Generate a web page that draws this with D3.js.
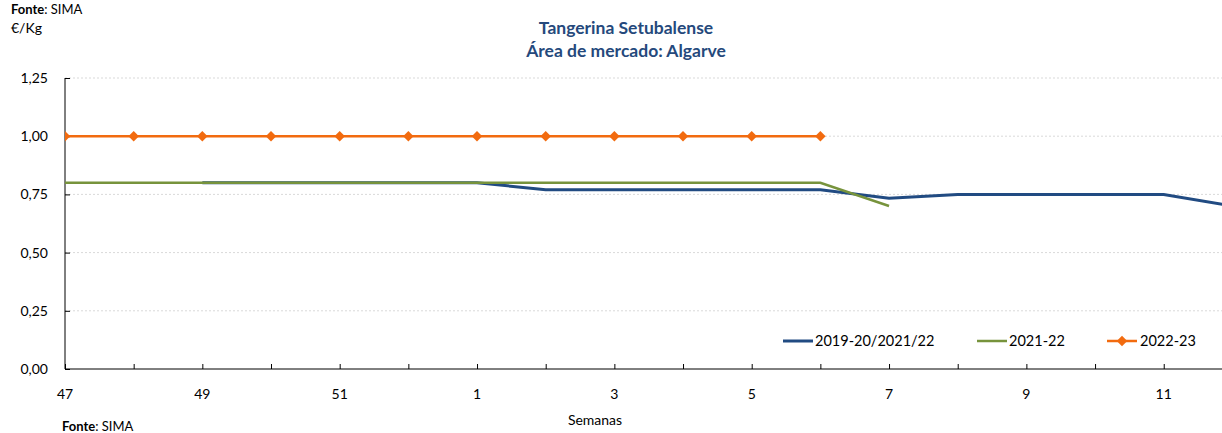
<!DOCTYPE html>
<html><head><meta charset="utf-8">
<script src="https://cdn.jsdelivr.net/npm/d3@7"></script>
<style>
body{margin:0;background:#fff;overflow:hidden}
svg{display:block;font-family:Lato,"Open Sans",sans-serif}
</style></head>
<body><svg id="c" width="1222" height="433"></svg>
<script>
const weeks = ["47","48","49","50","51","52","1","2","3","4","5","6","7","8","9","10","11","12"];
const tickLabels = ["47","49","51","1","3","5","7","9","11"];
const s2019 = [null,null,0.80,0.80,0.80,0.80,0.80,0.77,0.77,0.77,0.77,0.77,0.733,0.75,0.75,0.75,0.75,0.70];
const s2021 = [0.80,0.80,0.80,0.80,0.80,0.80,0.80,0.80,0.80,0.80,0.80,0.80,0.70,null,null,null,null,null];
const s2022 = [1.00,1.00,1.00,1.00,1.00,1.00,1.00,1.00,1.00,1.00,1.00,1.00,null,null,null,null,null,null];
const yTicks = [0,0.25,0.5,0.75,1.0,1.25];
const seriesNames = ["2019-20/2021/22","2021-22","2022-23"];
const colors = ["#214b82","#77933c","#f26b0f"];

const svg = d3.select("#c");
const pL = 65, pR = 65 + 17*68.67, pT = 78, pB = 369;
const x = d3.scalePoint().domain(weeks).range([pL, pR]);
const y = d3.scaleLinear().domain([0,1.25]).range([pB, pT]);
const fmt = v => d3.format(".2f")(v).replace(".", ",");

svg.append("defs").append("clipPath").attr("id","clip")
  .append("rect").attr("x",pL).attr("y",0).attr("width",1222-pL).attr("height",433);

// gridlines
svg.append("g").selectAll("line").data(yTicks.filter(d=>d>0)).join("line")
  .attr("x1",pL).attr("x2",1222).attr("y1",d=>y(d)).attr("y2",d=>y(d))
  .attr("stroke","#d9d9d9").attr("stroke-width",1).attr("stroke-dasharray","2,2");

// y axis
const ya = svg.append("g").attr("transform",`translate(${pL},0)`)
  .call(d3.axisRight(y).tickValues(yTicks).tickSize(5).tickFormat(""));
ya.select(".domain").attr("stroke","#000").attr("d",`M0,${pT}V${pB}`);
ya.selectAll(".tick line").attr("stroke","#000");
svg.append("g").selectAll("text").data(yTicks).join("text")
  .attr("x",48).attr("y",d=>y(d)).attr("dy","0.35em").attr("text-anchor","end")
  .attr("font-size",14).attr("fill","#000").text(fmt);

// x axis
const xa = svg.append("g").attr("transform",`translate(0,${pB})`)
  .call(d3.axisTop(x).tickSize(5).tickFormat(""));
xa.select(".domain").attr("stroke","#000").attr("d",`M${pL},0H1222`);
xa.selectAll(".tick line").attr("stroke","#000");
svg.append("g").selectAll("text").data(tickLabels).join("text")
  .attr("x",d=>x(d)).attr("y",394).attr("dy","0.35em").attr("text-anchor","middle")
  .attr("font-size",14).attr("fill","#000").text(d=>d);

// lines
const g = svg.append("g").attr("clip-path","url(#clip)");
const line = d3.line().defined(d=>d[1]!=null).x(d=>x(d[0])).y(d=>y(d[1]));
[[s2019,3],[s2021,2.5],[s2022,2.5]].forEach(([s,w],i)=>{
  g.append("path").datum(weeks.map((wk,j)=>[wk,s[j]]))
    .attr("d",line).attr("fill","none").attr("stroke",colors[i]).attr("stroke-width",w);
});
const diamond = d3.symbol().type(d3.symbolDiamond2).size(70);
g.selectAll(".mk").data(weeks.map((wk,j)=>[wk,s2022[j]]).filter(d=>d[1]!=null)).join("path")
  .attr("transform",d=>`translate(${x(d[0])},${y(d[1])})`).attr("d",diamond()).attr("fill",colors[2]);

// titles
svg.append("text").attr("x",626).attr("y",34).attr("text-anchor","middle").attr("font-size",17.5)
  .attr("font-weight","bold").attr("fill","#25497c").text("Tangerina Setubalense");
svg.append("text").attr("x",626).attr("y",57).attr("text-anchor","middle").attr("font-size",17.5)
  .attr("font-weight","bold").attr("fill","#25497c").text("Área de mercado: Algarve");
svg.append("text").attr("x",11).attr("y",33).attr("font-size",14).text("€/Kg");
const f1 = svg.append("text").attr("x",11).attr("y",14).attr("font-size",13);
f1.append("tspan").attr("font-weight","bold").text("Fonte");
f1.append("tspan").text(": SIMA");
const f2 = svg.append("text").attr("x",62).attr("y",431).attr("font-size",13);
f2.append("tspan").attr("font-weight","bold").text("Fonte");
f2.append("tspan").text(": SIMA");
svg.append("text").attr("x",595).attr("y",425).attr("text-anchor","middle").attr("font-size",14).text("Semanas");

// legend
const leg = [{x:783,t:815},{x:977,t:1009},{x:1107,t:1140}];
leg.forEach((l,i)=>{
  const ly = 341;
  svg.append("line").attr("x1",l.x).attr("x2",l.x+30).attr("y1",ly).attr("y2",ly)
    .attr("stroke",colors[i]).attr("stroke-width",i==0?3:2.5);
  if(i==2) svg.append("path").attr("transform",`translate(${l.x+15},${ly})`).attr("d",diamond()).attr("fill",colors[2]);
  svg.append("text").attr("x",l.t).attr("y",ly).attr("dy","0.35em").attr("font-size",14.5).text(seriesNames[i]);
});
</script></body></html>
